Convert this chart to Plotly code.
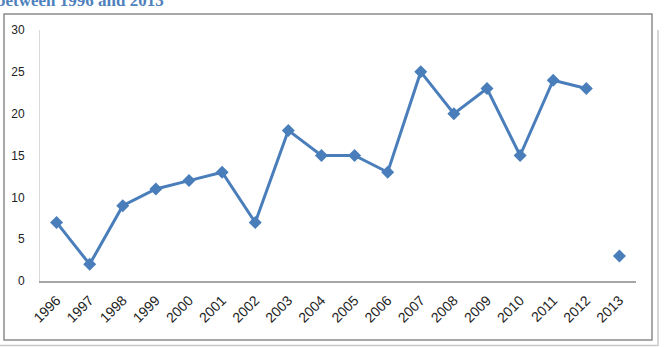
import plotly.graph_objects as go

years = ["1996", "1997", "1998", "1999", "2000", "2001", "2002", "2003", "2004",
         "2005", "2006", "2007", "2008", "2009", "2010", "2011", "2012", "2013"]
values = [7, 2, 9, 11, 12, 13, 7, 18, 15, 15, 13, 25, 20, 23, 15, 24, 23, 3]
connected = [True] * 17 + [False]
y_ticks = [0, 5, 10, 15, 20, 25, 30]
title_text = "between 1996 and 2013"

blue = "#4A7EBB"

line_vals = [v if c else None for v, c in zip(values, connected)]

fig = go.Figure()
fig.add_trace(go.Scatter(x=years, y=line_vals, mode="lines",
                         line=dict(color=blue, width=3), connectgaps=False,
                         hoverinfo="skip", showlegend=False))
fig.add_trace(go.Scatter(x=years, y=values, mode="markers",
                         marker=dict(symbol="diamond", size=10, color=blue),
                         showlegend=False))

W, H = 665, 347
L, R, T, B = 40, 636, 30, 281

def px(x):
    return (x - L) / (R - L)

def py(y):
    return (B - y) / (B - T)

shapes = [
    dict(type="rect", xref="paper", yref="paper", x0=px(4), x1=px(652), y0=py(340), y1=py(14),
         line=dict(color="#8c8c8c", width=1.5), layer="below"),
    dict(type="line", xref="paper", yref="paper", x0=px(658), x1=px(658), y0=py(346), y1=py(30),
         line=dict(color="#c8c8c8", width=1.5)),
    dict(type="line", xref="paper", yref="paper", x0=px(0), x1=px(658), y0=py(345.5), y1=py(345.5),
         line=dict(color="#c8c8c8", width=1.5)),
]

fig.update_layout(
    width=W, height=H,
    margin=dict(l=L, r=W - R, t=T, b=H - B),
    paper_bgcolor="white", plot_bgcolor="white",
    shapes=shapes,
    font=dict(family="Liberation Sans, Arial", color="#222222"),
    annotations=[dict(text="<b>" + title_text + "</b>", xref="paper", yref="paper",
                      x=px(-6), y=py(0), xanchor="left", yanchor="middle",
                      showarrow=False,
                      font=dict(family="Liberation Serif, DejaVu Serif", size=17, color="#4F81BD"))],
)
fig.update_xaxes(type="category", range=[-0.5, 17.5], showgrid=False, showline=True,
                 linecolor="#a6a6a6", linewidth=1.5, ticks="outside", ticklen=4,
                 tickcolor="rgba(0,0,0,0)", tickangle=-45,
                 tickfont=dict(size=14, color="#222222"), zeroline=False)
fig.update_yaxes(range=[0, 30], tickvals=y_ticks, showgrid=False, showline=True,
                 linecolor="#d9d9d9", linewidth=1, ticks="outside", ticklen=12,
                 tickcolor="rgba(0,0,0,0)", tickfont=dict(size=12, color="#222222"),
                 zeroline=False)

fig.write_html("out.html")
